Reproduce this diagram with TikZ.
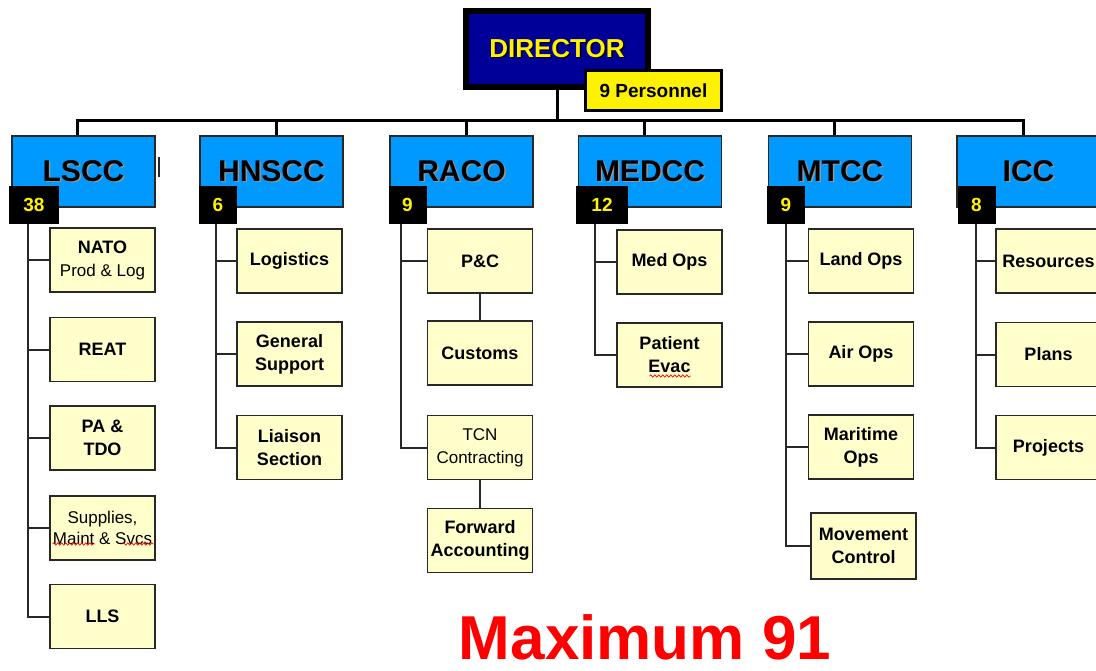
\documentclass[tikz,border=0pt]{standalone}
\usepackage{fontspec}
\setmainfont{Liberation Sans}
\usepackage{xcolor}
\usetikzlibrary{calc,positioning,decorations.pathmorphing}
\definecolor{dirblue}{RGB}{0,0,153}
\definecolor{unitblue}{RGB}{0,153,255}
\definecolor{cellfill}{RGB}{255,255,204}
\definecolor{edgegray}{RGB}{40,40,40}
\definecolor{shade}{RGB}{150,150,150}
\newcommand{\shadowed}[2]{\makebox[0pt][l]{\hspace{1.5pt}\raisebox{-1.5pt}{\color{#1}#2}}#2}
\newcommand{\lite}{\mdseries\fontsize{17}{21}\selectfont}
\tikzset{
  director/.style  = {draw=black, line width=6pt, fill=dirblue, text=yellow,
                      minimum width=182pt, minimum height=76pt,
                      font=\bfseries\fontsize{26}{30}\selectfont},
  perslabel/.style = {draw=black, line width=3pt, fill=yellow,
                      minimum width=136pt, minimum height=40pt,
                      font=\bfseries\fontsize{19}{22}\selectfont},
  unit/.style      = {draw=edgegray, line width=1.8pt, fill=unitblue,
                      minimum width=143pt, minimum height=71pt,
                      font=\bfseries\fontsize{30}{34}\selectfont},
  headcount/.style = {fill=black, text=yellow, inner sep=0pt,
                      minimum width=38pt, minimum height=38pt,
                      font=\bfseries\fontsize{19}{22}\selectfont},
  cell/.style      = {draw=edgegray, line width=1.8pt, fill=cellfill,
                      minimum width=105pt, minimum height=64pt, inner sep=1pt,
                      align=center, font=\bfseries\fontsize{18}{23}\selectfont},
  bus/.style       = {line width=3pt, black},
  branch/.style    = {line width=2pt, edgegray},
  spell/.style     = {red, line width=0.7pt, decorate,
                      decoration={snake, amplitude=1.2pt, segment length=4pt}},
}
\begin{document}
\begin{tikzpicture}[x=1pt, y=-1pt]
  \useasboundingbox[fill=white] (0,0) rectangle (1096,671);

  \node[director]  (dir)  at (557, 49)    {\shadowed{black}{DIRECTOR}};
  \node[perslabel] (pers) at (653.5, 90.5) {9 Personnel};

  \node[unit] (lscc)  at (83.5, 171.5)  {\shadowed{shade}{LSCC}};
  \node[unit] (hnscc) at (271.5, 171.5) {\shadowed{shade}{HNSCC}};
  \node[unit] (raco)  at (461.5, 171.5) {\shadowed{shade}{RACO}};
  \node[unit] (medcc) at (650, 171.5)   {\shadowed{shade}{MEDCC}};
  \node[unit] (mtcc)  at (840, 171.5)   {\shadowed{shade}{MTCC}};
  \node[unit] (icc)   at (1028.5, 171.5) {\shadowed{shade}{ICC}};

  \node[headcount, minimum width=50pt] (lsccn)  at (34, 205)    {38};
  \node[headcount]                     (hnsccn) at (218, 205)   {6};
  \node[headcount]                     (racon)  at (407.5, 205) {9};
  \node[headcount, minimum width=52pt] (medccn) at (602, 205)   {12};
  \node[headcount]                     (mtccn)  at (786, 205)   {9};
  \node[headcount]                     (iccn)   at (976.5, 205) {8};

  \coordinate (hub) at (557, 121);
  \draw[bus] (dir) -- (hub);
  \foreach \u/\dx in {lscc/66, hnscc/77, raco/77, medcc/67, mtcc/67, icc/67}
    \draw[bus] (hub) -| ([xshift=\dx pt]\u.north west);
  \draw[branch] ([shift={(3,-14)}]lscc.east) -- ([shift={(3,6)}]lscc.east);

  \node[cell] (nato)  at (102.5, 260)   {NATO\\{\lite Prod \& Log}};
  \node[cell] (reat)  at (102.5, 349.5) {REAT};
  \node[cell] (patdo) at (102.5, 438)   {PA \&\\TDO};
  \node[cell, font=\lite] (supp) at (102.5, 528) {Supplies,\\Maint \& Svcs};
  \node[cell] (lls)   at (102.5, 616.5) {LLS};

  \node[cell] (logi)  at (289.5, 261)   {Logistics};
  \node[cell] (gens)  at (289.5, 354)   {General\\Support};
  \node[cell] (liais) at (289.5, 447.5) {Liaison\\Section};

  \node[cell] (pc)    at (480, 261)     {P\&C};
  \node[cell] (cust)  at (480, 353)     {Customs};
  \node[cell, font=\fontsize{17}{23}\selectfont] (tcn) at (480, 447.5) {TCN\\Contracting};
  \node[cell] (fwd)   at (480, 540.5)   {Forward\\Accounting};

  \node[cell] (medops) at (669.5, 262)  {Med Ops};
  \node[cell] (evac)   at (669.5, 355)  {Patient\\Evac};

  \node[cell] (land)  at (861, 261)     {Land Ops};
  \node[cell] (air)   at (861, 354)     {Air Ops};
  \node[cell] (mari)  at (861, 447)     {Maritime\\Ops};
  \node[cell, minimum height=66pt] (move) at (863.5, 546) {Movement\\Control};

  \node[cell] (res)   at (1048.5, 261)   {Resources};
  \node[cell] (plans) at (1048.5, 354.5) {Plans};
  \node[cell] (proj)  at (1048.5, 447.5) {Projects};

  \foreach \c in {nato, reat, patdo, supp, lls}
    \draw[branch] ([xshift=19pt]lsccn.south west) |- (\c);
  \foreach \c in {logi, gens, liais}
    \draw[branch] ([xshift=17pt]hnsccn.south west) |- (\c);
  \foreach \c in {pc, tcn}
    \draw[branch] ([xshift=13pt]racon.south west) |- (\c);
  \draw[branch] (pc) -- (cust);
  \draw[branch] (tcn) -- (fwd);
  \foreach \c in {medops, evac}
    \draw[branch] ([xshift=19pt]medccn.south west) |- (\c);
  \foreach \c in {land, air, mari, move}
    \draw[branch] ([xshift=19pt]mtccn.south west) |- (\c);
  \foreach \c in {res, plans, proj}
    \draw[branch] ([xshift=19pt]iccn.south west) |- (\c);

  \draw[spell] ([shift={(-50,16)}]supp.center) -- ([shift={(-8,16)}]supp.center);
  \draw[spell] ([shift={(20,16)}]supp.center) -- ([shift={(51,16)}]supp.center);
  \draw[spell] ([shift={(-20,21)}]evac.center) -- ([shift={(21,21)}]evac.center);

  \node[text=red, inner sep=0pt, font=\bfseries\fontsize{62}{68}\selectfont] (maxi) at (645, 637) {Maximum 91};
\end{tikzpicture}
\end{document}
